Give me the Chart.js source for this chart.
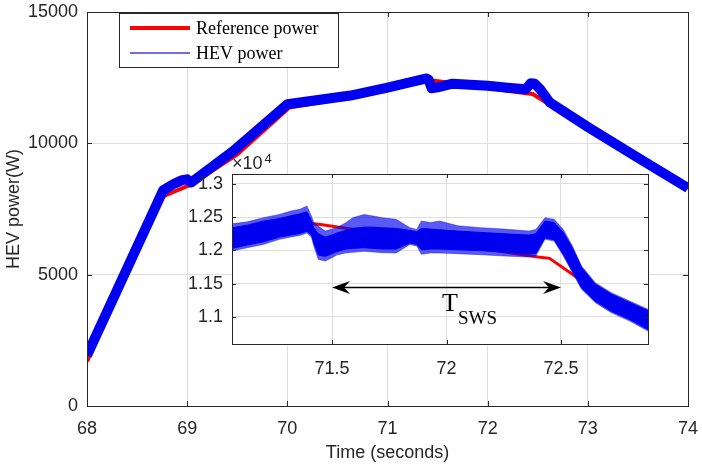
<!DOCTYPE html>
<html>
<head>
<meta charset="utf-8">
<script src="https://cdn.jsdelivr.net/npm/chart.js@4.4.1/dist/chart.umd.min.js"></script>
<style>
  html, body { margin: 0; padding: 0; background: #fff; }
  #wrap { position: relative; width: 702px; height: 466px; }
  #main { position: absolute; left: 0; top: 0; }
  #inset { position: absolute; left: 180px; top: 150px; }
</style>
</head>
<body>
<div id="wrap">
  <canvas id="main" width="702" height="466"></canvas>
  <canvas id="inset" width="480" height="225"></canvas>
</div>
<script>
// values (time in s, power in W)
const refTime  = [68.0, 68.74, 69.05, 69.5, 70.02, 70.6, 71.0, 71.42, 71.45, 72.4, 72.45, 72.57, 72.66, 73.0, 73.5, 74.0];
const refPower = [1700, 7950, 8450, 9580, 11360, 11730, 12040, 12400, 12390, 11900, 11880, 11590, 11380, 10600, 9440, 8280];

const hevTime  = [68.0, 68.76, 68.86, 68.95, 69.0, 69.04, 69.46, 70.0, 70.63, 71.0, 71.39, 71.41, 71.44, 71.5, 71.65, 72.0, 72.2, 72.38, 72.43, 72.47, 72.52, 72.62, 73.0, 73.5, 74.0];
const hevPower = [1930, 8210, 8440, 8600, 8630, 8510, 9710, 11490, 11820, 12120, 12470, 12420, 12100, 12130, 12270, 12190, 12120, 12060, 12290, 12270, 12080, 11560, 10620, 9455, 8300];

// zoomed window: HEV power band, outer edge of the spikes and edge of the dense core
const zoomTime  = [71.063, 71.13, 71.2, 71.27, 71.32, 71.36, 71.39, 71.41, 71.42, 71.44, 71.47, 71.5, 71.52, 71.56, 71.59, 71.64, 71.68, 71.72, 71.78, 71.84, 71.87, 71.89, 71.93, 71.97, 72.05, 72.15, 72.25, 72.36, 72.39, 72.43, 72.47, 72.51, 72.55, 72.59, 72.65, 72.72, 72.8, 72.88];
const spikeUpper = [12400, 12430, 12492, 12542, 12592, 12620, 12667, 12517, 12420, 12366, 12291, 12320, 12342, 12417, 12492, 12540, 12517, 12492, 12467, 12342, 12316, 12441, 12420, 12441, 12370, 12342, 12320, 12291, 12316, 12492, 12467, 12316, 12065, 11764, 11513, 11363, 11237, 11112];
const spikeLower = [11990, 12040, 12090, 12166, 12200, 12225, 12260, 12200, 12065, 11864, 11839, 11889, 11930, 11960, 11970, 11985, 11975, 11965, 11960, 12090, 12065, 11940, 11960, 11960, 11950, 11935, 11915, 11900, 11914, 12166, 12140, 11914, 11664, 11413, 11212, 11062, 10935, 10785];
const coreUpper  = [12340, 12380, 12440, 12480, 12520, 12550, 12580, 12450, 12340, 12250, 12200, 12230, 12260, 12300, 12330, 12350, 12350, 12340, 12330, 12300, 12280, 12330, 12320, 12310, 12290, 12270, 12250, 12230, 12250, 12440, 12420, 12270, 12030, 11740, 11490, 11340, 11215, 11090];
const coreLower  = [12030, 12080, 12130, 12200, 12230, 12255, 12290, 12230, 12120, 11930, 11910, 11950, 11980, 12020, 12030, 12040, 12030, 12020, 12020, 12110, 12090, 12010, 12020, 12020, 12010, 11995, 11975, 11950, 11950, 12190, 12160, 11945, 11690, 11435, 11235, 11085, 10960, 10810];

const mainXTicks = [68, 69, 70, 71, 72, 73, 74];
const mainYTicks = [0, 5000, 10000, 15000];
const zoomXRange = [71.063, 72.88];
const zoomYRange = [10590, 13150];
const zoomXTicks = [71.5, 72, 72.5];
const zoomYTicks = [11000, 11500, 12000, 12500, 13000];
const swsArrow = { from: 71.5, to: 72.5, level: 11450 };

const RED = '#ff0000', BLUE = '#0000f0';
const AXIS = '#262626', GRID = '#dedede';
const SANS = "'Liberation Sans', Arial, sans-serif";
const SERIF = "'Liberation Serif', 'Times New Roman', serif";

const pts = (xs, ys) => xs.map((x, i) => ({ x, y: ys[i] }));
const fixTicks = list => s => { s.ticks = list.map(v => ({ value: v })); };
// no extra room for half labels sticking out past the box
const noOverflow = size => s => {
  if (s.isHorizontal()) s.height = size; else s.width = size;
  s.paddingLeft = s.paddingRight = s.paddingTop = s.paddingBottom = 0;
};

// matlab style axes: full box, ticks pointing inwards on all four sides
const boxPlugin = {
  id: 'matlabBox',
  beforeDraw(chart, args, opts) {
    if (!opts.fill) return;
    const a = chart.chartArea;
    chart.ctx.save();
    chart.ctx.fillStyle = '#fff';
    chart.ctx.fillRect(a.left, a.top, a.right - a.left, a.bottom - a.top);
    chart.ctx.restore();
  },
  afterDatasetsDraw(chart, args, opts) {
    const { ctx, chartArea: a, scales: { x, y } } = chart;
    const t = opts.tick || 5;
    ctx.save();
    ctx.strokeStyle = AXIS;
    ctx.lineWidth = 1;
    ctx.beginPath();
    x.ticks.forEach(tk => {
      const px = Math.round(x.getPixelForValue(tk.value)) + 0.5;
      ctx.moveTo(px, a.bottom); ctx.lineTo(px, a.bottom - t);
      ctx.moveTo(px, a.top); ctx.lineTo(px, a.top + t);
    });
    y.ticks.forEach(tk => {
      const py = Math.round(y.getPixelForValue(tk.value)) + 0.5;
      ctx.moveTo(a.left, py); ctx.lineTo(a.left + t, py);
      ctx.moveTo(a.right, py); ctx.lineTo(a.right - t, py);
    });
    ctx.stroke();
    ctx.strokeRect(Math.round(a.left) + 0.5, Math.round(a.top) + 0.5,
      Math.round(a.right - a.left), Math.round(a.bottom - a.top));
    ctx.restore();
  },
};

const legendPlugin = {
  id: 'boxLegend',
  afterDraw(chart, args, opts) {
    const { ctx } = chart;
    const { x, y, w, h } = opts.box;
    ctx.save();
    ctx.fillStyle = '#fff';
    ctx.fillRect(x, y, w, h);
    ctx.strokeStyle = AXIS;
    ctx.lineWidth = 1;
    ctx.strokeRect(x + 0.5, y + 0.5, w, h);
    ctx.font = `18px ${SERIF}`;
    ctx.textBaseline = 'middle';
    chart.data.datasets.forEach((ds, i) => {
      const ly = y + 15 + i * 25;
      ctx.strokeStyle = i === 0 ? ds.borderColor : '#3c3cdc';
      ctx.lineWidth = i === 0 ? 4 : 1.5;
      ctx.beginPath();
      ctx.moveTo(x + 11, ly);
      ctx.lineTo(x + 71, ly);
      ctx.stroke();
      ctx.fillStyle = '#000';
      ctx.fillText(ds.label, x + 77, ly + 1);
    });
    ctx.restore();
  },
};

// double arrow + T_SWS label, and the x10^4 exponent of the inset
const swsPlugin = {
  id: 'swsNote',
  afterDraw(chart) {
    const { ctx, chartArea: a, scales: { x, y } } = chart;
    const x0 = x.getPixelForValue(swsArrow.from);
    const x1 = x.getPixelForValue(swsArrow.to);
    const yy = Math.round(y.getPixelForValue(swsArrow.level)) + 0.5;
    ctx.save();
    ctx.strokeStyle = '#000';
    ctx.fillStyle = '#000';
    ctx.lineWidth = 1.6;
    ctx.beginPath();
    ctx.moveTo(x0 + 8, yy); ctx.lineTo(x1 - 8, yy);
    ctx.stroke();
    const head = (tip, dir) => {
      ctx.beginPath();
      ctx.moveTo(tip, yy);
      ctx.lineTo(tip - dir * 18, yy - 6.5);
      ctx.lineTo(tip - dir * 12, yy);
      ctx.lineTo(tip - dir * 18, yy + 6.5);
      ctx.closePath();
      ctx.fill();
    };
    head(x0, -1);
    head(x1, 1);

    ctx.textBaseline = 'alphabetic';
    ctx.font = `26px ${SERIF}`;
    ctx.fillText('T', x.getPixelForValue(71.98), y.getPixelForValue(11080));
    ctx.font = `19px ${SERIF}`;
    ctx.fillText('SWS', x.getPixelForValue(72.05), y.getPixelForValue(10890));

    ctx.fillStyle = AXIS;
    ctx.font = `18px ${SANS}`;
    ctx.fillText('\u00d710', a.left, a.top - 5);
    const w = ctx.measureText('\u00d710').width;
    ctx.font = `13px ${SANS}`;
    ctx.fillText('4', a.left + w + 2, a.top - 11);
    ctx.restore();
  },
};

const tickFont = { family: SANS, size: 18 };
const line = { pointRadius: 0, tension: 0, clip: 0 };

new Chart(document.getElementById('main'), {
  type: 'line',
  data: {
    datasets: [
      { label: 'Reference power', data: pts(refTime, refPower), borderColor: RED, borderWidth: 4,
        pointRadius: 0, tension: 0, order: 1 },
      { label: 'HEV power', data: pts(hevTime, hevPower), borderColor: BLUE, borderWidth: 10,
        pointRadius: 0, tension: 0, order: 0, borderJoinStyle: 'round' },
    ],
  },
  options: {
    responsive: false,
    animation: false,
    devicePixelRatio: 1,
    parsing: false,
    layout: { padding: { top: 12, right: 14, left: 0, bottom: 0 } },
    plugins: {
      legend: { display: false },
      tooltip: { enabled: false },
      matlabBox: { tick: 5 },
      boxLegend: { box: { x: 119, y: 13, w: 219, h: 54 } },
    },
    scales: {
      x: {
        type: 'linear', min: 68, max: 74,
        afterFit: noOverflow(60),
        afterBuildTicks: fixTicks(mainXTicks),
        ticks: { font: tickFont, color: AXIS, padding: 12, maxRotation: 0, autoSkip: false },
        grid: { color: GRID, drawTicks: false },
        border: { display: false },
        title: { display: true, text: 'Time (seconds)', font: { family: SANS, size: 18 }, color: AXIS,
          padding: { top: 0, bottom: 2 } },
      },
      y: {
        type: 'linear', min: 0, max: 15000,
        afterFit: noOverflow(87),
        afterBuildTicks: fixTicks(mainYTicks),
        ticks: { font: tickFont, color: AXIS, padding: 9, callback: v => String(v) },
        grid: { color: GRID, drawTicks: false },
        border: { display: false },
        title: { display: true, text: 'HEV power(W)', font: { family: SANS, size: 18 }, color: AXIS,
          padding: { top: 3, bottom: 0 } },
      },
    },
  },
  plugins: [boxPlugin, legendPlugin],
});

new Chart(document.getElementById('inset'), {
  type: 'line',
  data: {
    datasets: [
      { label: 'HEV power', data: pts(zoomTime, coreUpper), borderColor: BLUE, borderWidth: 1,
        backgroundColor: BLUE, fill: '+1', order: 0, ...line },
      { label: 'HEV core lower', data: pts(zoomTime, coreLower), borderColor: BLUE, borderWidth: 1,
        fill: false, order: 1, ...line },
      { label: 'HEV spikes upper', data: pts(zoomTime, spikeUpper), borderColor: 'rgba(0,0,240,0.4)', borderWidth: 1,
        backgroundColor: 'rgba(0,0,240,0.65)', fill: '+1', order: 2, ...line },
      { label: 'HEV spikes lower', data: pts(zoomTime, spikeLower), borderColor: 'rgba(0,0,240,0.4)', borderWidth: 1,
        fill: false, order: 3, ...line },
      { label: 'Reference power', data: pts(refTime, refPower), borderColor: RED, borderWidth: 3,
        order: 4, ...line },
    ],
  },
  options: {
    responsive: false,
    animation: false,
    devicePixelRatio: 1,
    parsing: false,
    layout: { padding: { top: 24, right: 12, left: 0, bottom: 0 } },
    plugins: {
      legend: { display: false },
      tooltip: { enabled: false },
      matlabBox: { tick: 4, fill: true },
    },
    scales: {
      x: {
        type: 'linear', min: zoomXRange[0], max: zoomXRange[1],
        afterFit: noOverflow(31),
        afterBuildTicks: fixTicks(zoomXTicks),
        ticks: { font: tickFont, color: AXIS, padding: 14, maxRotation: 0, autoSkip: false,
          callback: v => String(v) },
        grid: { color: GRID, drawTicks: false },
        border: { display: false },
      },
      y: {
        type: 'linear', min: zoomYRange[0], max: zoomYRange[1],
        afterFit: noOverflow(52),
        afterBuildTicks: fixTicks(zoomYTicks),
        ticks: { font: tickFont, color: AXIS, padding: 9, callback: v => String(v / 10000) },
        grid: { color: GRID, drawTicks: false },
        border: { display: false },
      },
    },
  },
  plugins: [boxPlugin, swsPlugin],
});
</script>
</body>
</html>
